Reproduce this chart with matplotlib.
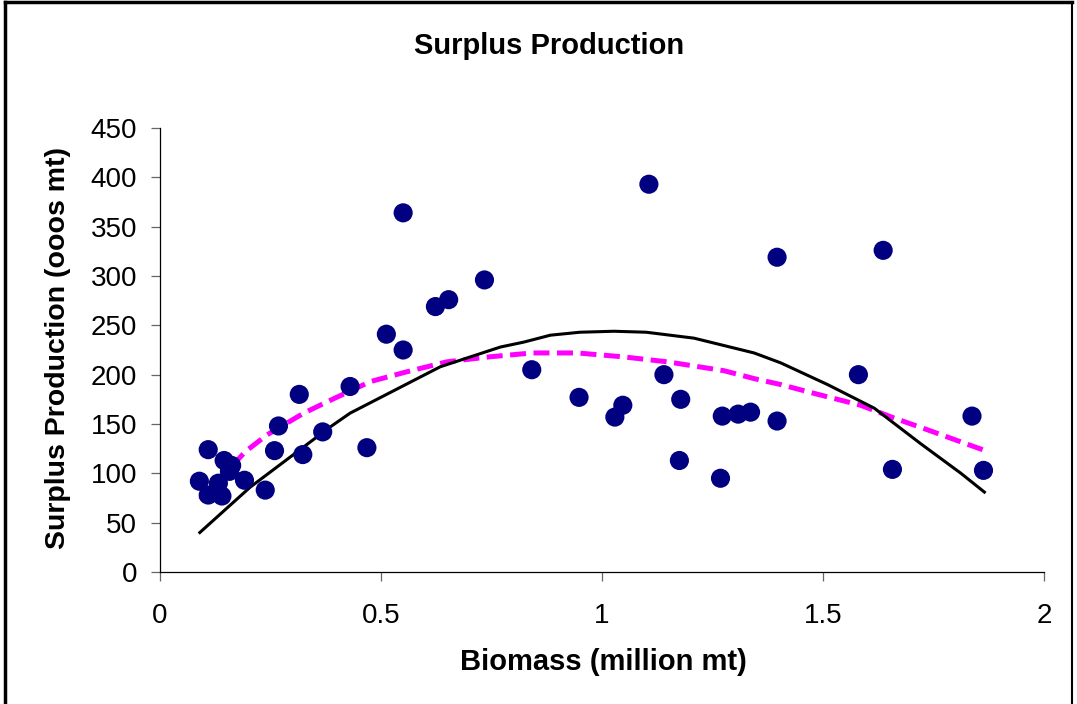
import matplotlib
matplotlib.use("Agg")
import matplotlib.pyplot as plt
from matplotlib.lines import Line2D

plt.rcParams['font.family'] = ['Liberation Sans', 'DejaVu Sans']

# observed biomass (million mt) vs surplus production (000s mt)
biomass = [0.109, 0.089, 0.145, 0.162, 0.157, 0.132, 0.109, 0.140, 0.191, 0.238,
           0.268, 0.259, 0.323, 0.368, 0.315,
           0.550, 0.734, 0.653, 0.623, 0.512, 0.550, 0.841, 0.430, 0.468,
           1.106, 1.396, 0.948, 1.047, 1.029, 1.140, 1.178, 1.272, 1.308, 1.336,
           1.396, 1.175, 1.268,
           1.636, 1.580, 1.837, 1.657, 1.863]
surplus = [124, 92, 113, 108, 102, 90, 78, 77, 93, 83,
           148, 123, 119, 142, 180,
           364, 296, 276, 269, 241, 225, 205, 188, 126,
           393, 319, 177, 169, 157, 200, 175, 158, 160, 162,
           153, 113, 95,
           326, 200, 158, 104, 103]

# black solid model curve
model_x = [0.09, 0.204, 0.385, 0.43, 0.634, 0.77, 0.823, 0.883, 0.95, 1.027,
           1.1, 1.208, 1.344, 1.404, 1.51, 1.616, 1.721, 1.812, 1.865]
model_y = [40, 86, 147, 161, 208, 228, 233, 240, 243, 244,
           243, 237, 222, 212, 190, 166, 130, 100, 81]

# magenta dashed curve
trend_x = [0.091, 0.193, 0.242, 0.325, 0.385, 0.476, 0.559, 0.649, 0.744, 0.842,
           0.944, 1.049, 1.148, 1.276, 1.344, 1.404, 1.48, 1.585, 1.661, 1.737,
           1.842, 1.861]
trend_y = [73, 122, 139, 161, 174, 193, 203, 213, 218, 222,
           222, 218, 213, 204, 196, 190, 181, 169, 156, 144,
           127, 124]

fig = plt.figure(figsize=(10.77, 7.04), dpi=100)
ax = fig.add_axes([0.1486, 0.1875, 0.8208, 0.6307])

ax.plot(model_x, model_y, color='black', lw=2.2, zorder=3)
ax.plot(trend_x, trend_y, color='#FF00FF', lw=3.6, dashes=(3.2, 1.5), zorder=2)
ax.scatter(biomass, surplus, s=190, color='#000080', edgecolors='none', zorder=4)

ax.set_xlim(0, 2)
ax.set_ylim(0, 450)
ax.set_xticks([0, 0.5, 1, 1.5, 2])
ax.set_xticklabels(['0', '0.5', '1', '1.5', '2'])
ax.set_yticks(range(0, 451, 50))

ax.spines['top'].set_visible(False)
ax.spines['right'].set_visible(False)
ax.spines['left'].set_linewidth(0.9)
ax.spines['bottom'].set_linewidth(0.9)
ax.tick_params(axis='both', direction='out', length=6.5, width=0.9,
               color='#666666', labelsize=20)
ax.tick_params(axis='x', pad=16)
ax.tick_params(axis='y', pad=10)

ax.set_xlabel('Biomass (million mt)', fontsize=21, fontweight='bold')
ax.set_ylabel('Surplus Production (ooos mt)', fontsize=20.5, fontweight='bold')
ax.xaxis.set_label_coords(0.502, -0.172)
ax.yaxis.set_label_coords(-0.101, 0.5045)

fig.text(0.51, 0.934, 'Surplus Production', fontsize=21, fontweight='bold',
         ha='center', va='center')

# outer frame (left, top, right)
fig.add_artist(Line2D([0.005, 0.005], [0.0, 0.997], color='black', lw=2.5))
fig.add_artist(Line2D([0.005, 0.995], [0.997, 0.997], color='black', lw=2.5))
fig.add_artist(Line2D([0.995, 0.995], [0.0, 0.997], color='black', lw=1.5))

fig.savefig('out.png', dpi=100)
